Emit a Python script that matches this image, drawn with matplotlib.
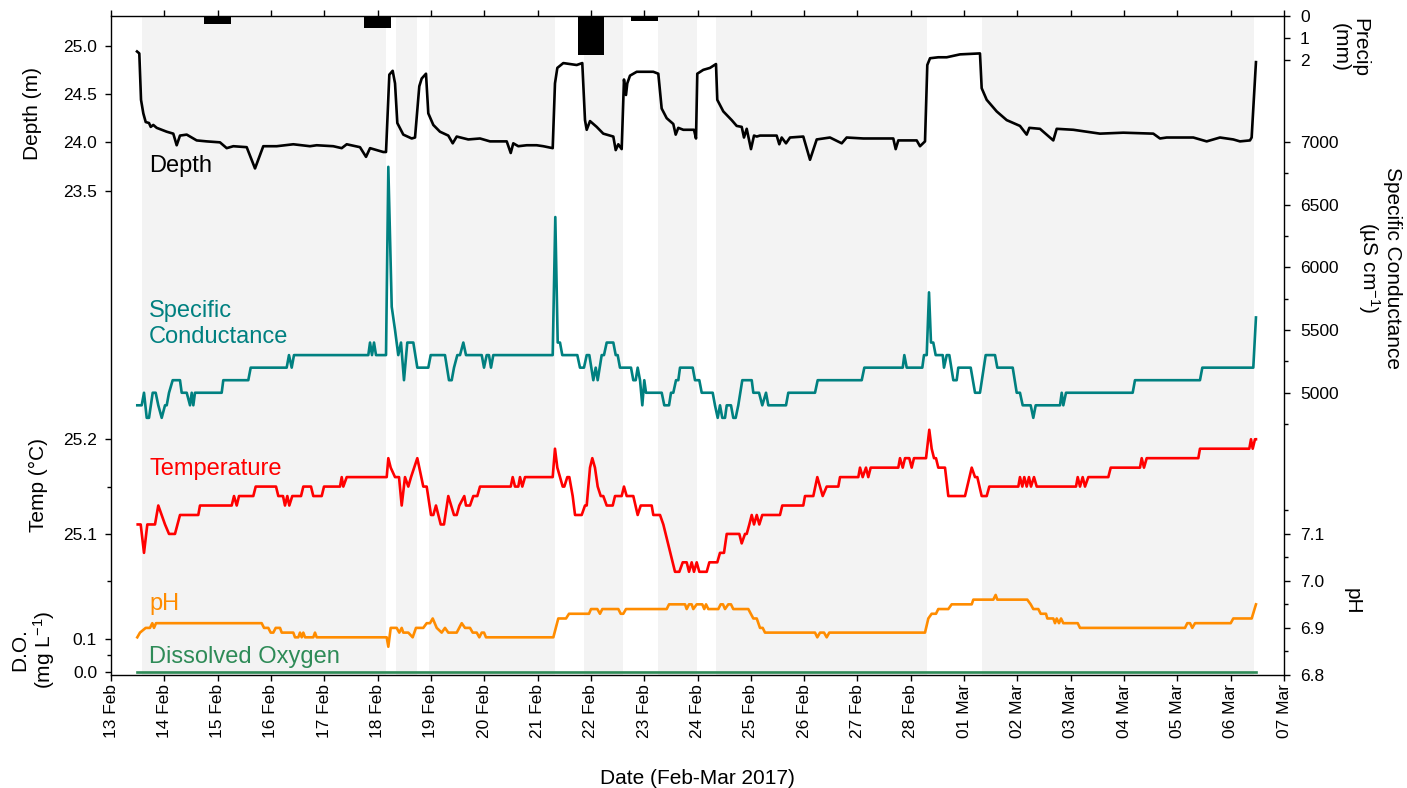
import numpy as np
import pandas as pd
import matplotlib
matplotlib.use('Agg')
import matplotlib.pyplot as plt
import matplotlib.dates as mdates

plt.rcParams['font.family'] = ['Liberation Sans', 'DejaVu Sans']
plt.rcParams['mathtext.default'] = 'regular'

START = pd.Timestamp('2017-02-13')
END = pd.Timestamp('2017-03-07')

# times are days after 13 Feb 00:00
depth_days = [0.488, 0.531, 0.563, 0.606, 0.651, 0.713, 0.745, 0.793, 0.857, 1.045,
              1.168, 1.232, 1.294, 1.420, 1.607, 1.795, 2.044, 2.170, 2.294, 2.545,
              2.701, 2.856, 3.108, 3.419, 3.732, 3.858, 4.169, 4.327, 4.421, 4.670,
              4.783, 4.858, 5.107, 5.158, 5.220, 5.283, 5.327, 5.370, 5.482, 5.640,
              5.702, 5.782, 5.827, 5.908, 5.951, 6.045, 6.170, 6.326, 6.409, 6.484,
              6.701, 6.921, 7.108, 7.422, 7.497, 7.545, 7.639, 7.797, 7.984, 8.108,
              8.284, 8.327, 8.371, 8.483, 8.734, 8.839, 8.890, 8.922, 8.984, 9.109,
              9.233, 9.421, 9.466, 9.515, 9.578, 9.621, 9.659, 9.683, 9.734, 9.860,
              10.171, 10.265, 10.328, 10.422, 10.546, 10.591, 10.640, 10.734, 10.934, 10.972,
              10.996, 11.109, 11.234, 11.347, 11.371, 11.484, 11.641, 11.735, 11.829, 11.872,
              11.923, 12.003, 12.060, 12.111, 12.172, 12.485, 12.534, 12.579, 12.660, 12.735,
              12.984, 13.110, 13.236, 13.485, 13.705, 13.798, 14.110, 14.672, 14.717, 14.766,
              15.111, 15.173, 15.267, 15.310, 15.361, 15.516, 15.674, 15.923, 16.298, 16.330,
              16.424, 16.611, 16.799, 17.048, 17.174, 17.224, 17.423, 17.673, 17.737, 18.048,
              18.549, 18.986, 19.549, 19.674, 19.800, 20.299, 20.550, 20.799, 21.049, 21.174,
              21.361, 21.393, 21.474]
depth_m = [24.94, 24.92, 24.44, 24.30, 24.21, 24.20, 24.16, 24.18, 24.15, 24.11,
           24.09, 23.97, 24.07, 24.08, 24.02, 24.01, 24.00, 23.94, 23.96, 23.95,
           23.73, 23.96, 23.96, 23.98, 23.96, 23.97, 23.96, 23.94, 23.98, 23.95,
           23.85, 23.94, 23.90, 23.90, 24.70, 24.74, 24.61, 24.20, 24.08, 24.04,
           24.05, 24.58, 24.66, 24.71, 24.30, 24.18, 24.11, 24.07, 23.99, 24.06,
           24.03, 24.04, 24.01, 24.01, 23.89, 23.99, 23.96, 23.97, 23.97, 23.96,
           23.94, 24.61, 24.77, 24.82, 24.80, 24.82, 24.23, 24.13, 24.22, 24.16,
           24.09, 24.06, 23.92, 23.98, 23.93, 24.65, 24.49, 24.61, 24.69, 24.73,
           24.73, 24.71, 24.35, 24.25, 24.19, 24.08, 24.15, 24.13, 24.13, 24.04,
           24.71, 24.75, 24.77, 24.81, 24.44, 24.32, 24.23, 24.17, 24.16, 24.05,
           24.14, 23.93, 24.07, 24.06, 24.07, 24.07, 23.98, 24.05, 23.99, 24.05,
           24.06, 23.82, 24.03, 24.05, 23.99, 24.05, 24.04, 24.04, 23.93, 24.02,
           24.02, 23.96, 24.01, 24.80, 24.87, 24.88, 24.88, 24.91, 24.92, 24.56,
           24.44, 24.32, 24.23, 24.17, 24.08, 24.15, 24.14, 24.02, 24.14, 24.13,
           24.09, 24.10, 24.09, 24.04, 24.05, 24.05, 24.01, 24.05, 24.03, 24.01,
           24.02, 24.05, 24.83]

sc_days = [0.493, 0.576, 0.619, 0.670, 0.713, 0.782, 0.838, 0.887, 0.951, 1.013,
           1.045, 1.088, 1.157, 1.294, 1.326, 1.420, 1.482, 1.514, 1.544, 1.575,
           2.076, 2.106, 2.575, 2.620, 3.295, 3.338, 3.389, 3.432, 4.826, 4.858,
           4.895, 4.933, 4.970, 5.158, 5.201, 5.265, 5.327, 5.388, 5.439, 5.495,
           5.557, 5.670, 5.745, 5.951, 5.996, 6.264, 6.339, 6.390, 6.433, 6.495,
           6.546, 6.608, 6.658, 6.953, 6.996, 7.046, 7.089, 7.127, 7.170, 8.284,
           8.333, 8.378, 8.421, 8.464, 8.746, 8.796, 8.871, 8.922, 8.971, 9.046,
           9.091, 9.128, 9.203, 9.246, 9.297, 9.421, 9.466, 9.503, 9.546, 9.753,
           9.796, 9.841, 9.878, 9.922, 9.965, 10.002, 10.034, 10.329, 10.377, 10.466,
           10.503, 10.546, 10.597, 10.640, 10.672, 10.910, 10.953, 11.034, 11.079, 11.285,
           11.328, 11.379, 11.422, 11.465, 11.516, 11.548, 11.628, 11.671, 11.716, 11.765,
           11.840, 12.017, 12.047, 12.154, 12.215, 12.285, 12.328, 12.660, 12.703, 13.204,
           13.254, 14.080, 14.129, 14.849, 14.879, 14.924, 15.216, 15.248, 15.299, 15.342,
           15.379, 15.422, 15.467, 15.599, 15.623, 15.674, 15.723, 15.798, 15.861, 15.891,
           16.124, 16.205, 16.298, 16.405, 16.580, 16.623, 16.912, 16.987, 17.048, 17.099,
           17.249, 17.298, 17.343, 17.799, 17.831, 17.861, 17.911, 19.162, 19.205, 20.424,
           20.468, 21.424, 21.474]
sc_uscm = [4900, 4900, 5000, 4800, 4800, 5000, 5000, 4900, 4800, 4900,
           4900, 5000, 5100, 5100, 5000, 5000, 4900, 5000, 4900, 5000,
           5000, 5100, 5100, 5200, 5200, 5300, 5200, 5300, 5300, 5400,
           5300, 5400, 5300, 5300, 6800, 5685, 5500, 5300, 5400, 5100,
           5400, 5400, 5200, 5200, 5300, 5300, 5100, 5100, 5200, 5300,
           5300, 5400, 5300, 5300, 5200, 5300, 5300, 5200, 5300, 5300,
           6400, 5400, 5400, 5300, 5300, 5200, 5200, 5300, 5300, 5100,
           5200, 5100, 5300, 5300, 5400, 5400, 5300, 5300, 5200, 5200,
           5100, 5100, 5200, 5100, 4900, 5100, 5000, 5000, 4900, 4900,
           5000, 5000, 5100, 5100, 5200, 5200, 5100, 5100, 5000, 5000,
           4900, 4800, 4900, 4800, 4800, 4900, 4900, 4800, 4800, 4900,
           5100, 5100, 5000, 5000, 4900, 5000, 4900, 4900, 5000, 5000,
           5100, 5100, 5200, 5200, 5300, 5200, 5200, 5300, 5300, 5800,
           5400, 5400, 5300, 5300, 5200, 5300, 5300, 5100, 5100, 5200,
           5200, 5000, 5000, 5300, 5300, 5200, 5200, 5000, 5000, 4900,
           4900, 4800, 4900, 4900, 5000, 4900, 5000, 5000, 5100, 5100,
           5200, 5200, 5600]

temp_days = [0.501, 0.557, 0.619, 0.681, 0.825, 0.887, 0.951, 1.013, 1.088, 1.200,
             1.294, 1.637, 1.669, 2.264, 2.307, 2.358, 2.401, 2.669, 2.714, 3.095,
             3.138, 3.226, 3.263, 3.307, 3.344, 3.400, 3.564, 3.607, 3.751, 3.794,
             3.952, 3.995, 4.295, 4.327, 4.357, 4.421, 5.171, 5.201, 5.246, 5.327,
             5.402, 5.452, 5.514, 5.576, 5.627, 5.745, 5.857, 5.921, 6.002, 6.045,
             6.095, 6.184, 6.245, 6.326, 6.433, 6.484, 6.533, 6.626, 6.658, 6.733,
             6.795, 6.870, 6.921, 7.497, 7.534, 7.577, 7.639, 7.671, 7.714, 7.765,
             8.284, 8.327, 8.371, 8.421, 8.472, 8.502, 8.558, 8.596, 8.659, 8.703,
             8.828, 8.890, 8.922, 8.984, 9.027, 9.077, 9.128, 9.185, 9.233, 9.297,
             9.410, 9.453, 9.578, 9.621, 9.672, 9.796, 9.878, 9.935, 10.141, 10.171,
             10.297, 10.359, 10.578, 10.659, 10.723, 10.797, 10.841, 10.891, 10.934, 10.985,
             11.034, 11.173, 11.222, 11.371, 11.422, 11.497, 11.548, 11.784, 11.829, 11.891,
             11.923, 11.972, 12.017, 12.060, 12.111, 12.159, 12.215, 12.547, 12.590, 12.984,
             13.016, 13.172, 13.247, 13.348, 13.423, 13.641, 13.673, 14.016, 14.048, 14.098,
             14.160, 14.203, 14.248, 14.766, 14.798, 14.849, 14.892, 14.972, 15.017, 15.060,
             15.286, 15.347, 15.392, 15.436, 15.473, 15.516, 15.642, 15.704, 16.017, 16.143,
             16.205, 16.248, 16.330, 16.424, 16.473, 17.017, 17.048, 17.092, 17.129, 17.174,
             17.217, 17.255, 17.311, 17.362, 18.099, 18.131, 18.174, 18.224, 18.268, 18.330,
             18.705, 18.750, 19.299, 19.331, 19.374, 19.425, 20.393, 20.424, 21.349, 21.381,
             21.413, 21.456, 21.474]
temp_c = [25.11, 25.11, 25.08, 25.11, 25.11, 25.13, 25.12, 25.11, 25.10, 25.10,
          25.12, 25.12, 25.13, 25.13, 25.14, 25.13, 25.14, 25.14, 25.15, 25.15,
          25.14, 25.14, 25.13, 25.14, 25.13, 25.14, 25.14, 25.15, 25.15, 25.14,
          25.14, 25.15, 25.15, 25.16, 25.15, 25.16, 25.16, 25.18, 25.17, 25.16,
          25.16, 25.13, 25.16, 25.15, 25.16, 25.18, 25.15, 25.15, 25.12, 25.12,
          25.13, 25.11, 25.11, 25.14, 25.12, 25.12, 25.13, 25.14, 25.13, 25.13,
          25.14, 25.14, 25.15, 25.15, 25.16, 25.15, 25.15, 25.16, 25.15, 25.16,
          25.16, 25.19, 25.17, 25.16, 25.15, 25.15, 25.16, 25.16, 25.14, 25.12,
          25.12, 25.13, 25.13, 25.17, 25.18, 25.17, 25.15, 25.14, 25.14, 25.13,
          25.13, 25.14, 25.14, 25.15, 25.14, 25.14, 25.12, 25.13, 25.13, 25.12,
          25.12, 25.11, 25.06, 25.06, 25.07, 25.07, 25.06, 25.07, 25.06, 25.07,
          25.06, 25.06, 25.07, 25.07, 25.08, 25.08, 25.10, 25.10, 25.09, 25.10,
          25.10, 25.11, 25.12, 25.11, 25.12, 25.11, 25.12, 25.12, 25.13, 25.13,
          25.14, 25.14, 25.16, 25.14, 25.15, 25.15, 25.16, 25.16, 25.17, 25.16,
          25.17, 25.16, 25.17, 25.17, 25.18, 25.17, 25.18, 25.18, 25.17, 25.18,
          25.18, 25.21, 25.19, 25.18, 25.18, 25.17, 25.17, 25.14, 25.14, 25.17,
          25.16, 25.16, 25.14, 25.14, 25.15, 25.15, 25.16, 25.15, 25.16, 25.15,
          25.16, 25.15, 25.16, 25.15, 25.15, 25.16, 25.15, 25.16, 25.15, 25.16,
          25.16, 25.17, 25.17, 25.18, 25.17, 25.18, 25.18, 25.19, 25.19, 25.20,
          25.19, 25.20, 25.20]

ph_days = [0.493, 0.544, 0.651, 0.731, 0.775, 0.806, 0.844, 2.826, 2.870, 2.950,
           2.995, 3.044, 3.089, 3.170, 3.202, 3.419, 3.451, 3.513, 3.545, 3.577,
           3.607, 3.639, 3.794, 3.826, 3.858, 5.171, 5.201, 5.246, 5.358, 5.407,
           5.452, 5.482, 5.576, 5.658, 5.720, 5.857, 5.921, 5.983, 6.034, 6.109,
           6.202, 6.264, 6.326, 6.484, 6.578, 6.639, 6.733, 6.784, 6.859, 6.908,
           6.953, 6.996, 7.033, 8.296, 8.389, 8.534, 8.590, 8.965, 9.003, 9.121,
           9.171, 9.215, 9.515, 9.560, 9.608, 9.659, 10.422, 10.466, 10.766, 10.797,
           10.841, 10.891, 10.921, 10.985, 11.090, 11.127, 11.160, 11.203, 11.390, 11.435,
           11.478, 11.516, 11.578, 11.628, 11.671, 11.953, 12.047, 12.111, 12.172, 12.223,
           12.266, 13.204, 13.247, 13.298, 13.373, 13.423, 13.472, 15.267, 15.329, 15.392,
           15.473, 15.516, 15.704, 15.767, 16.143, 16.173, 16.548, 16.592, 16.623, 17.185,
           17.249, 17.298, 17.392, 17.437, 17.536, 17.561, 17.673, 17.705, 17.737, 17.780,
           17.818, 17.861, 18.131, 18.174, 20.143, 20.186, 20.237, 20.280, 20.331, 21.000,
           21.049, 21.394, 21.474]
ph_vals = [6.88, 6.89, 6.90, 6.90, 6.91, 6.90, 6.91, 6.91, 6.90, 6.90,
           6.89, 6.89, 6.90, 6.90, 6.89, 6.89, 6.88, 6.88, 6.89, 6.88,
           6.89, 6.88, 6.88, 6.89, 6.88, 6.88, 6.86, 6.90, 6.90, 6.89,
           6.90, 6.89, 6.89, 6.88, 6.90, 6.90, 6.91, 6.91, 6.92, 6.90,
           6.89, 6.90, 6.89, 6.89, 6.91, 6.90, 6.90, 6.89, 6.89, 6.88,
           6.89, 6.89, 6.88, 6.88, 6.92, 6.92, 6.93, 6.93, 6.94, 6.94,
           6.93, 6.94, 6.94, 6.93, 6.93, 6.94, 6.94, 6.95, 6.95, 6.94,
           6.95, 6.95, 6.94, 6.95, 6.95, 6.94, 6.95, 6.94, 6.94, 6.95,
           6.95, 6.94, 6.95, 6.95, 6.94, 6.94, 6.92, 6.92, 6.90, 6.90,
           6.89, 6.89, 6.88, 6.89, 6.89, 6.88, 6.89, 6.89, 6.92, 6.93,
           6.93, 6.94, 6.94, 6.95, 6.95, 6.96, 6.96, 6.97, 6.96, 6.96,
           6.95, 6.94, 6.94, 6.93, 6.93, 6.92, 6.92, 6.91, 6.92, 6.91,
           6.92, 6.91, 6.91, 6.90, 6.90, 6.91, 6.91, 6.90, 6.91, 6.91,
           6.92, 6.92, 6.95]

do_days = [0.488, 21.474]
do_mgl = [0.0, 0.0]

precip_days = [2.0, 5.0, 9.0, 10.0]
precip_mm = [0.34, 0.55, 1.77, 0.24]

# shaded periods (start, end) in days after 13 Feb
shade_start = [0.576, 5.345, 5.964, 8.866, 10.259, 11.347, 16.330]
shade_end = [5.152, 5.739, 8.327, 9.608, 10.991, 15.305, 21.437]

C_DEPTH = 'black'
C_SC = '#008080'
C_TEMP = '#ff0000'
C_PH = '#ff8c00'
C_DO = '#2e8b57'


def to_time(days):
    return START + pd.to_timedelta(np.asarray(days), unit='D')


W, H = 1407, 788


def fx(px):
    return px / W


def fy(py):
    return 1 - py / H


fig = plt.figure(figsize=(W / 100, H / 100), dpi=100)
ax = fig.add_axes([fx(111), fy(675), (1284 - 111) / W, (675 - 16) / H])

for s, e in zip(shade_start, shade_end):
    ax.axvspan(to_time([s])[0], to_time([e])[0], color='#f3f3f3', lw=0, zorder=0)

ax.set_xlim(START, END)
ax.set_ylim(0, 1)
ax.set_yticks([])
ax.xaxis.set_major_locator(mdates.DayLocator())
ax.xaxis.set_major_formatter(mdates.DateFormatter('%d %b'))
ax.tick_params(axis='x', which='major', direction='out', length=4.5, width=1,
               top=True, labeltop=False, labelsize=12.5, labelrotation=90, pad=2)
for sp in ax.spines.values():
    sp.set_linewidth(1.0)
ax.set_xlabel('Date (Feb-Mar 2017)', fontsize=15, labelpad=22)


def make_twin(side, ylim, major, minor, fmt):
    t = ax.twinx()
    for sp in t.spines.values():
        sp.set_visible(False)
    t.set_ylim(*ylim)
    t.set_yticks(major)
    t.set_yticks(minor, minor=True)
    t.set_yticklabels([fmt % v for v in major])
    if side == 'left':
        t.yaxis.tick_left()
        pad = 5.5
    else:
        t.yaxis.tick_right()
        pad = 7
    t.tick_params(axis='y', which='major', direction='out', length=4.5, width=1,
                  labelsize=12.5, pad=pad)
    t.tick_params(axis='y', which='minor', direction='out', length=3, width=1)
    return t


ax_depth = make_twin('left', (18.49, 25.307), [23.5, 24.0, 24.5, 25.0], [], '%.1f')
ax_temp = make_twin('left', (24.951, 25.647), [25.1, 25.2], [25.05, 25.15], '%.1f')
ax_do = make_twin('left', (-0.0101, 2.005), [0.0, 0.1], [0.05], '%.1f')
ax_pr = make_twin('right', (29.75, 0), [0, 1, 2], [], '%d')
ax_sc = make_twin('right', (2751, 8002), [5000, 5500, 6000, 6500, 7000],
                  [4750, 5250, 5750, 6250, 6750], '%d')
ax_ph = make_twin('right', (6.8, 8.199), [6.8, 6.9, 7.0, 7.1],
                  [6.85, 6.95, 7.05, 7.15], '%.1f')

lw = 1.9
ax_pr.bar(to_time(precip_days), precip_mm, width=0.5, color='black', align='center')
ax_depth.plot(to_time(depth_days), depth_m, color=C_DEPTH, lw=lw)
ax_sc.plot(to_time(sc_days), sc_uscm, color=C_SC, lw=lw)
ax_temp.plot(to_time(temp_days), temp_c, color=C_TEMP, lw=lw)
ax_ph.plot(to_time(ph_days), ph_vals, color=C_PH, lw=lw)
ax_do.plot(to_time(do_days), do_mgl, color=C_DO, lw=lw)

# axis titles
fig.text(fx(32), fy(113), 'Depth (m)', rotation=90, ha='center', va='center', fontsize=15)
fig.text(fx(38), fy(485), 'Temp (\u00b0C)', rotation=90, ha='center', va='center', fontsize=15)
fig.text(fx(34), fy(650), 'D.O.\n(mg L$^{-1}$)', rotation=90, ha='center', va='center',
         fontsize=15, linespacing=1.1)
fig.text(fx(1350), fy(47), 'Precip\n(mm)', rotation=270, ha='center', va='center',
         fontsize=15, linespacing=1.1)
fig.text(fx(1379), fy(268), 'Specific Conductance\n(\u00b5S cm$^{-1}$)', rotation=270,
         ha='center', va='center', fontsize=15, linespacing=1.1)
fig.text(fx(1352), fy(601), 'pH', rotation=270, ha='center', va='center', fontsize=15)

# series names
fig.text(fx(149), fy(166), 'Depth', color=C_DEPTH, fontsize=17, va='center')
fig.text(fx(149), fy(324), 'Specific\nConductance', color=C_SC, fontsize=17, va='center')
fig.text(fx(149), fy(469), 'Temperature', color=C_TEMP, fontsize=17, va='center')
fig.text(fx(149), fy(604), 'pH', color=C_PH, fontsize=17, va='center')
fig.text(fx(149), fy(657), 'Dissolved Oxygen', color=C_DO, fontsize=17, va='center')

fig.savefig('out.png', dpi=100)
